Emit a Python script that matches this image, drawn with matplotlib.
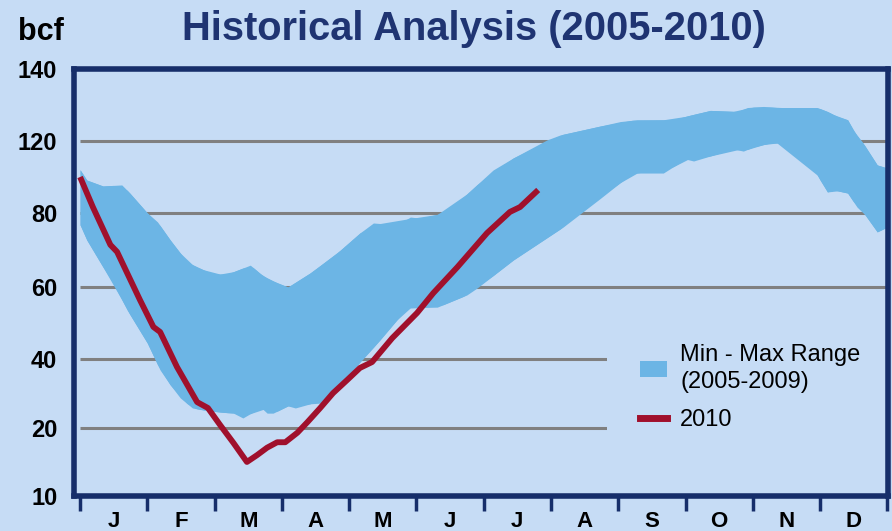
import numpy as np
import matplotlib
matplotlib.use("Agg")
import matplotlib.pyplot as plt
from matplotlib.patches import Patch
from matplotlib.lines import Line2D

plt.rcParams['font.family'] = ['Liberation Sans', 'DejaVu Sans']

# --- data (bcf, x in months from Jan 1) --- #

months = ['J', 'F', 'M', 'A', 'M', 'J', 'J', 'A', 'S', 'O', 'N', 'D']
ytick_vals = [10, 20, 40, 60, 80, 120, 140]
grid_vals = [20, 40, 60, 80, 120]

max_x = [0.0, 0.10, 0.34, 0.62, 0.74, 1.00, 1.15, 1.34, 1.59, 1.74, 1.98, 2.19, 2.53,
         2.72, 2.93, 3.09, 3.42, 3.82, 4.16, 4.36, 4.71, 4.91, 5.06, 5.40, 5.70, 6.14,
         6.44, 6.94, 7.14, 7.48, 8.03, 8.28, 8.82, 9.03, 9.37, 9.77, 9.92, 10.16, 10.36,
         10.96, 11.11, 11.26, 11.41, 11.49, 11.64, 11.85, 12.0]
max_y = [104, 98.3, 95, 95.6, 91.1, 80, 77.6, 72.7, 66.8, 65.4, 63.5, 63.5, 65.9,
         63.0, 61.1, 60, 63.8, 69.2, 74.6, 77.3, 76.8, 78.9, 78.6, 80, 88.9, 103.9,
         110.6, 120.3, 121.7, 123.1, 125.4, 125.9, 125.9, 127.0, 128.5, 128.2, 129.3, 129.6, 129.3,
         129.3, 128.2, 126.8, 125.9, 123.1, 118.9, 106.7, 105]

min_x = [0.0, 0.10, 0.34, 0.49, 0.70, 1.00, 1.19, 1.34, 1.49, 1.67, 1.83, 2.08, 2.28,
         2.42, 2.57, 2.68, 2.78, 2.87, 3.09, 3.20, 3.42, 3.57, 3.87, 4.16, 4.46, 4.86,
         5.31, 5.75, 5.90, 6.44, 7.18, 7.73, 8.21, 8.67, 9.00, 9.12, 9.37, 9.71, 9.86,
         10.01, 10.26, 10.44, 10.56, 10.74, 10.86, 11.00, 11.11, 11.20, 11.41, 11.55, 11.67,
         11.85, 12.0]
min_y = [76.8, 72.7, 65.4, 61.1, 53.6, 44.4, 36.8, 32.5, 28.7, 25.8, 25.2, 24.6, 24.3,
         22.9, 24.6, 26.1, 24.3, 24.3, 26.4, 25.8, 27.0, 27.2, 32.5, 39.1, 45.3, 54.2,
         54.4, 57.8, 59.7, 67.3, 76.2, 88.0, 102.2, 102.2, 110, 108.9, 111.7, 115.6, 114.4,
         116.7, 118.9, 118.9, 116.1, 110.6, 107.8, 98.3, 91.7, 92.8, 91.1, 83.3, 79.5,
         74.9, 76.2]

y2010_x = [0.0, 0.19, 0.45, 0.55, 0.89, 1.09, 1.19, 1.44, 1.74, 1.90, 2.08, 2.28, 2.48,
           2.63, 2.78, 2.93, 3.05, 3.23, 3.38, 3.57, 3.76, 3.97, 4.16, 4.34, 4.64, 5.01,
           5.25, 5.61, 6.05, 6.39, 6.54, 6.81]
y2010_y = [100, 83.3, 71.4, 69.5, 56.4, 48.9, 47.5, 37.7, 27.5, 25.8, 20.9, 17.8, 15.0,
           16.0, 17.1, 17.9, 17.9, 19.3, 21.7, 25.8, 30.1, 33.9, 37.4, 39.1, 45.8, 52.8,
           58.3, 65.4, 74.6, 80.6, 83.3, 92.8]

# the printed axis is not linear: each label sits on its own gridline
tick_pos = [0, 68, 137, 209, 283, 355, 427]

def fwd(v):
    return np.interp(v, ytick_vals, tick_pos)

def inv(p):
    return np.interp(p, tick_pos, ytick_vals)

bg = '#C6DCF5'
navy = '#162E6A'
band_col = '#6CB5E5'
red = '#A0102C'

fig = plt.figure(figsize=(8.92, 5.31), dpi=100, facecolor=bg)
ax = fig.add_axes([0.083, 0.066, 0.9125, 0.804], facecolor=bg)
ax.set_yscale('function', functions=(fwd, inv))
ax.set_xlim(-0.09, 12.01)
ax.set_ylim(10, 140)

ax.hlines(grid_vals, 0, 12, color='#808080', lw=2.2, zorder=1)
ax.fill_between(max_x, max_y, np.interp(max_x, min_x, min_y), color=band_col, lw=0, zorder=2)
ax.fill_between(min_x, np.interp(min_x, max_x, max_y), min_y, color=band_col, lw=0, zorder=2)
ax.plot(y2010_x, y2010_y, color=red, lw=4.2, zorder=3, solid_capstyle='butt')

for s in ax.spines.values():
    s.set_color(navy)
    s.set_linewidth(4)
    s.set_zorder(4)

ax.set_yticks(ytick_vals)
ax.set_yticklabels([str(v) for v in ytick_vals], fontsize=17, fontweight='bold')
ax.yaxis.set_minor_locator(matplotlib.ticker.NullLocator())
ax.tick_params(axis='y', length=0, pad=12)

ax.set_xticks(range(13))
ax.set_xticklabels([''] * 13)
ax.tick_params(axis='x', which='major', length=11, width=2.5, color=navy, direction='out')
ax.set_xticks(np.arange(12) + 0.5, minor=True)
ax.set_xticklabels(months, minor=True, fontsize=16, fontweight='bold')
ax.tick_params(axis='x', which='minor', length=0, pad=11)

handles = [Patch(facecolor=band_col, edgecolor='none'),
           Line2D([0], [0], color=red, lw=5)]
leg = ax.legend(handles, ['Min - Max Range\n(2005-2009)', '2010'],
                loc='upper left', bbox_to_anchor=(0.655, 0.433), borderaxespad=0,
                fontsize=17, frameon=True, facecolor=bg, edgecolor=bg, framealpha=1,
                handlelength=1.15, handleheight=0.65, handletextpad=0.55,
                labelspacing=0.65, borderpad=1.4, fancybox=False)
leg.get_frame().set_linewidth(0)
leg.set_zorder(3.5)
for t in leg.get_texts():
    t.set_linespacing(1.3)

fig.text(0.531, 0.945, 'Historical Analysis (2005-2010)', ha='center', va='center',
         fontsize=28.7, fontweight='bold', color='#1F3472')
fig.text(0.02, 0.94, 'bcf', ha='left', va='center', fontsize=22, fontweight='bold',
         color='black')

fig.savefig('out.png', dpi=100, facecolor=bg)
